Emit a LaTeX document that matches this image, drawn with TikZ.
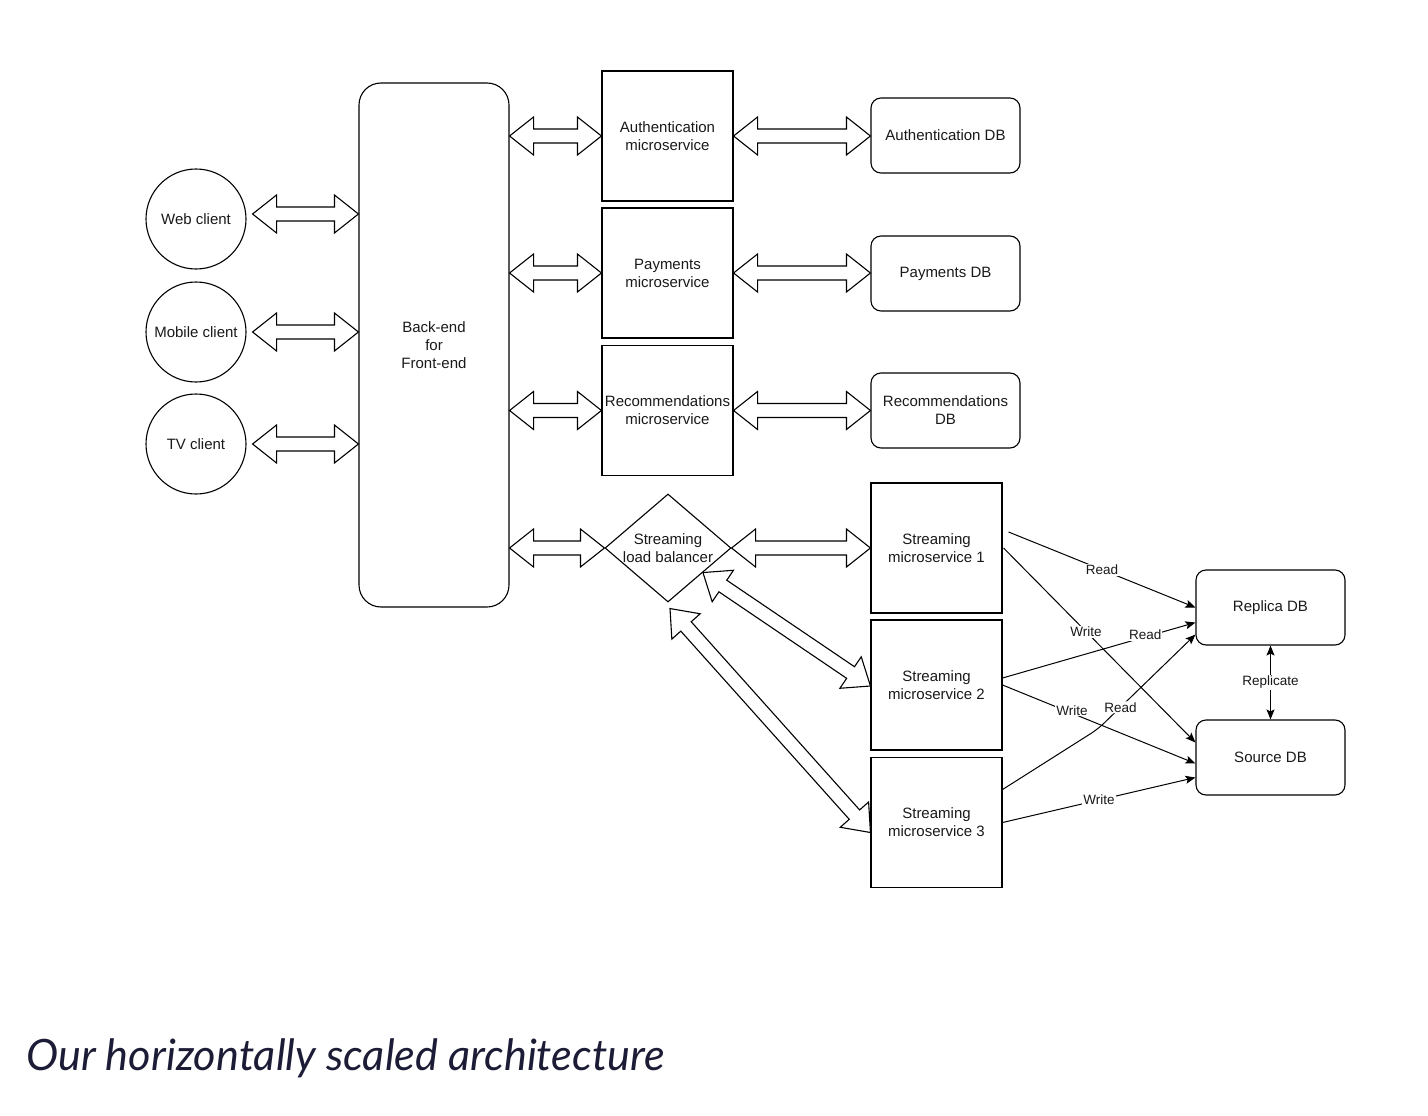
\documentclass[tikz,border=0pt]{standalone}
\usepackage{fontspec}
\setmainfont{Liberation Sans}
\newfontfamily\capfont{Lato}
\usetikzlibrary{shapes.geometric,calc,arrows.meta}
\definecolor{capcol}{HTML}{1C1C36}
\newcommand\blockarrow[2]{%
 \draw[blk] (#1) -- ($(#1)!24pt!(#2)!19pt!90:(#2)$) -- ($(#1)!24pt!(#2)!7pt!90:(#2)$)
  -- ($(#2)!24pt!(#1)!7pt!-90:(#1)$) -- ($(#2)!24pt!(#1)!19pt!-90:(#1)$) -- (#2)
  -- ($(#2)!24pt!(#1)!19pt!90:(#1)$) -- ($(#2)!24pt!(#1)!7pt!90:(#1)$)
  -- ($(#1)!24pt!(#2)!7pt!-90:(#2)$) -- ($(#1)!24pt!(#2)!19pt!-90:(#2)$) -- cycle;}
\begin{document}
\begin{tikzpicture}[x=1pt,y=-1pt,
  every node/.style={font=\fontsize{15}{18}\selectfont, text=black!90},
  client/.style={circle, draw, line width=1.1pt, minimum size=100pt, inner sep=0pt},
  svc/.style={rectangle, draw, line width=1.1pt, minimum width=131pt, minimum height=130pt, inner sep=0pt, align=center},
  db/.style={rectangle, rounded corners=10pt, draw, line width=1.1pt, minimum width=149pt, minimum height=75pt, inner sep=0pt, align=center},
  blk/.style={draw, line width=1.1pt, line join=miter, fill=white},
  conn/.style={draw, line width=1pt, -{Stealth[length=10pt,width=8pt,inset=2pt]}},
  lbl/.style={fill=white, inner sep=1pt, font=\fontsize{13.5}{15}\selectfont}]
\useasboundingbox (0,0) rectangle (1428,1116);
% clients
\node[client] (web) at (196,219) {Web client};
\node[client] (mob) at (196,332) {Mobile client};
\node[client] (tv) at (196,444) {TV client};
% backend
\node[rectangle, rounded corners=22pt, draw, line width=1.1pt, minimum width=150pt, minimum height=524pt, align=center, inner sep=0pt] (be) at (434,345) {Back-end\\for\\Front-end};
% microservices
\node[svc] (auth) at (667.5,136) {Authentication\\microservice};
\node[svc] (pay) at (667.5,273) {Payments\\microservice};
\node[svc] (rec) at (667.5,410.5) {Recommendations\\microservice};
\node[diamond, draw, line width=1.1pt, minimum width=126pt, minimum height=108pt, inner sep=0pt,
  label={[align=center, inner sep=0pt, font=\fontsize{15}{18}\selectfont]center:Streaming\\load balancer}] (lb) at (668,548) {};
% dbs
\node[db] (authdb) at (945.5,135.5) {Authentication DB};
\node[db] (paydb) at (945.5,273.5) {Payments DB};
\node[db] (recdb) at (945.5,410.5) {Recommendations\\DB};
% streaming
\node[svc] (s1) at (936.5,548) {Streaming\\microservice 1};
\node[svc] (s2) at (936.5,685) {Streaming\\microservice 2};
\node[svc] (s3) at (936.5,822.5) {Streaming\\microservice 3};
\node[db] (rep) at (1270.5,607.5) {Replica DB};
\node[db] (src) at (1270.5,757.5) {Source DB};
% block arrows
\coordinate (wa1) at ([xshift=6pt,yshift=5pt]web.east);
\coordinate (wa2) at (be.west |- wa1);
\coordinate (ma1) at ([xshift=6pt]mob.east);
\coordinate (ma2) at (be.west |- ma1);
\coordinate (ta1) at ([xshift=6pt]tv.east);
\coordinate (ta2) at (be.west |- ta1);
\blockarrow{wa1}{wa2}
\blockarrow{ma1}{ma2}
\blockarrow{ta1}{ta2}
\coordinate (b1) at (be.east |- auth.west);
\coordinate (b2) at (be.east |- pay.west);
\coordinate (b3) at (be.east |- rec.west);
\coordinate (b4) at (be.east |- lb.west);
\blockarrow{b1}{auth.west}
\blockarrow{b2}{pay.west}
\blockarrow{b3}{rec.west}
\blockarrow{b4}{lb.west}
\coordinate (d1) at (authdb.west |- auth.east);
\coordinate (d2) at (paydb.west |- pay.east);
\coordinate (d3) at (recdb.west |- rec.east);
\blockarrow{auth.east}{d1}
\blockarrow{pay.east}{d2}
\blockarrow{rec.east}{d3}
\coordinate (l1) at (s1.west |- lb.east);
\blockarrow{lb.east}{l1}
\coordinate (l2a) at ($(lb.east)!0.45!(lb.south)$);
\coordinate (l2b) at ([yshift=-1pt]s2.west);
\blockarrow{l2a}{l2b}
\coordinate (l3a) at ([xshift=2pt,yshift=-6pt]lb.south);
\coordinate (l3b) at ([yshift=-10pt]s3.west);
\blockarrow{l3a}{l3b}
% thin connectors
\coordinate (r1a) at ([xshift=6pt,yshift=16pt]s1.east);
\draw[conn] (r1a) -- node[lbl,pos=0.5] {Read} (rep.west);
\coordinate (w1a) at ([xshift=1pt]s1.east);
\coordinate (w1b) at ([yshift=15pt]src.west);
\draw[conn] (w1a) -- node[lbl,pos=0.43] {Write} (w1b);
\coordinate (r2a) at ([yshift=7pt]s2.east);
\coordinate (r2b) at ([yshift=-15pt]rep.west);
\draw[conn] (r2a) -- node[lbl,pos=0.74,yshift=2pt] {Read} (r2b);
\coordinate (w2b) at ([yshift=-6pt]src.west);
\draw[conn] (s2.east) -- node[lbl,pos=0.36,yshift=3pt] {Write} (w2b);
\coordinate (r3a) at ([yshift=33pt]s3.east);
\coordinate (k3) at (1098,729);
\coordinate (r3b) at ([yshift=-27pt]rep.west);
\draw[conn, rounded corners=8pt] (r3a) -- (k3) -- node[lbl,pos=0.23] {Read} (r3b);
\coordinate (w3b) at ([yshift=-20pt]src.west);
\draw[conn] (s3.east) -- node[lbl,pos=0.5] {Write} (w3b);
\draw[line width=1pt, {Stealth[length=10pt,width=8pt,inset=2pt]}-{Stealth[length=10pt,width=8pt,inset=2pt]}] (rep.south) -- node[lbl] {Replicate} (src.north);
% caption
\node[anchor=west, inner sep=0pt, text=capcol, font=\capfont\itshape\fontsize{43.2}{50}\selectfont] (cap) at (26,1058) {Our horizontally scaled architecture};
\end{tikzpicture}
\end{document}
